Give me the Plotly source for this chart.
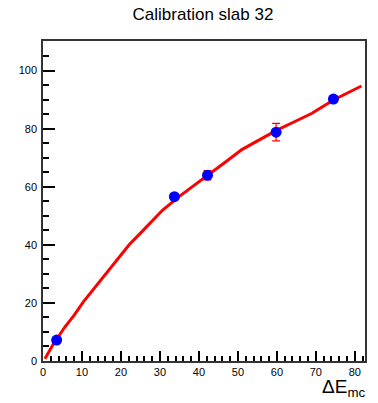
import plotly.graph_objects as go

# Measured calibration points
pt_x = [3.5, 33.7, 42.2, 59.8, 74.5]
pt_y = [7.2, 56.6, 64.0, 78.8, 90.2]
pt_err = [0.8, 0.8, 1.6, 3.0, 0.9]

# Fitted curve
fit_x = [0.5, 2.5, 5.6, 8.0, 10.3, 13.0, 15.4, 18.0, 20.1, 22.2, 24.7, 27.5, 30.7, 34.9, 38.5,
         42.2, 45.0, 47.5, 51.0, 55.4, 60.0, 64.5, 69.0, 74.5, 78.0, 81.7]
fit_y = [0.8, 5.5, 11.7, 15.8, 20.3, 24.8, 29.0, 33.2, 36.8, 40.2, 43.6, 47.6, 52.0, 56.6, 60.2,
         63.6, 66.6, 69.2, 72.8, 76.2, 79.5, 82.4, 85.3, 89.9, 92.2, 94.7]

x_ticks = [0, 10, 20, 30, 40, 50, 60, 70, 80]
y_ticks = [0, 20, 40, 60, 80, 100]

fig = go.Figure()
fig.add_trace(go.Scatter(
    x=fit_x, y=fit_y, mode="lines",
    line=dict(color="#ff0000", width=3),
    showlegend=False, hoverinfo="skip"))
fig.add_trace(go.Scatter(
    x=pt_x, y=pt_y, mode="markers",
    marker=dict(color="#0000ff", size=11, symbol="circle"),
    error_y=dict(type="data", array=pt_err, color="#ff0000", thickness=1.2, width=4),
    showlegend=False))

axis_common = dict(
    showline=True, linecolor="#333333", linewidth=1.5, mirror=True,
    showgrid=False, zeroline=False,
    ticks="inside", tickcolor="#000000", tickwidth=1.5,
    tickfont=dict(family="Liberation Sans, Arial, sans-serif", size=11, color="#000000"),
)

fig.update_layout(
    width=378, height=403,
    margin=dict(l=43, r=11, t=41, b=42),
    paper_bgcolor="white", plot_bgcolor="white",
    title=dict(text="Calibration slab 32", x=0.537, xanchor="center", y=0.965, yanchor="middle",
               font=dict(family="Liberation Sans, Arial, sans-serif", size=17, color="#000000")),
    xaxis=dict(range=[0, 82.6], tickmode="array", tickvals=x_ticks, ticklen=10,
               minor=dict(dtick=2, ticks="inside", ticklen=5, tickcolor="#000000", tickwidth=1.5),
               **axis_common),
    yaxis=dict(range=[0, 110.2], tickmode="array", tickvals=y_ticks, ticklen=12,
               ticklabelstandoff=2,
               minor=dict(dtick=5, ticks="inside", ticklen=6, tickcolor="#000000", tickwidth=1.5),
               **axis_common),
    annotations=[dict(text="ΔE<sub>mc</sub>", xref="paper", yref="paper", x=1.005, y=-0.04,
                      xanchor="right", yanchor="top", showarrow=False,
                      font=dict(family="Liberation Sans, Arial, sans-serif", size=19, color="#000000"))],
)

fig.write_html("out.html")
